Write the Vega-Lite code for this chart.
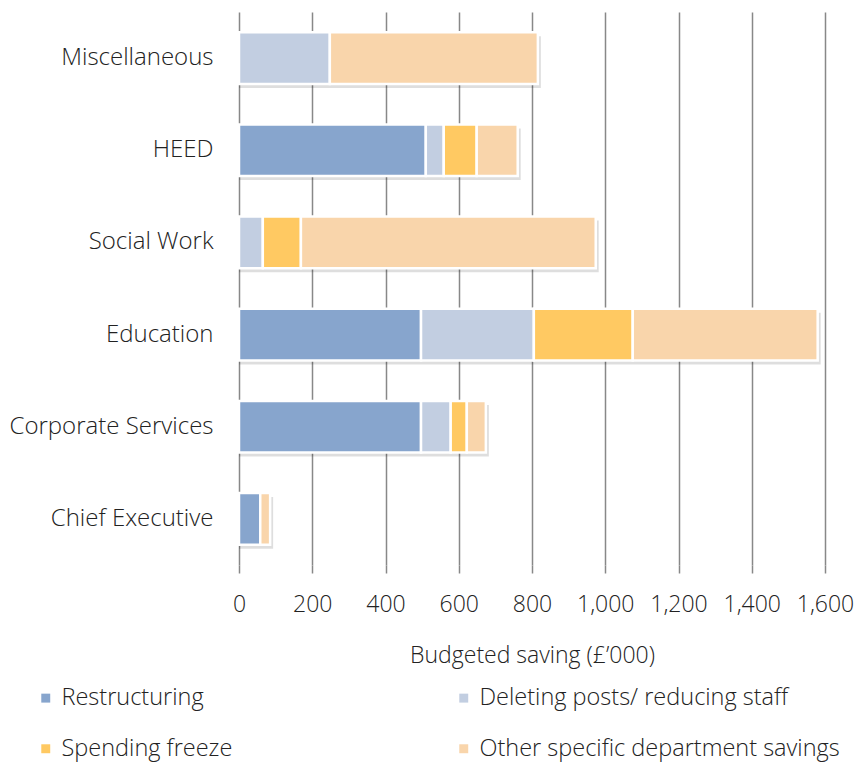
{
  "$schema": "https://vega.github.io/schema/vega-lite/v6.json",
  "width": 586,
  "height": 553,
  "autosize": {"type": "none"},
  "padding": {"left": 239, "top": 12, "right": 30, "bottom": 202},
  "background": "white",
  "config": {
    "font": "Open Sans",
    "view": {"stroke": null},
    "axis": {"labelFont": "Open Sans", "titleFont": "Open Sans", "labelFontWeight": 300, "titleFontWeight": 300},
    "legend": {"labelFont": "Open Sans", "labelFontWeight": 300}
  },
  "data": {
    "values": [
      {"dept": "Miscellaneous", "type": "Deleting posts/ reducing staff", "o": 2, "v": 248},
      {"dept": "Miscellaneous", "type": "Other specific department savings", "o": 4, "v": 568},
      {"dept": "HEED", "type": "Restructuring", "o": 1, "v": 510},
      {"dept": "HEED", "type": "Deleting posts/ reducing staff", "o": 2, "v": 49},
      {"dept": "HEED", "type": "Spending freeze", "o": 3, "v": 90},
      {"dept": "HEED", "type": "Other specific department savings", "o": 4, "v": 112},
      {"dept": "Social Work", "type": "Deleting posts/ reducing staff", "o": 2, "v": 65},
      {"dept": "Social Work", "type": "Spending freeze", "o": 3, "v": 104},
      {"dept": "Social Work", "type": "Other specific department savings", "o": 4, "v": 805},
      {"dept": "Education", "type": "Restructuring", "o": 1, "v": 497},
      {"dept": "Education", "type": "Deleting posts/ reducing staff", "o": 2, "v": 308},
      {"dept": "Education", "type": "Spending freeze", "o": 3, "v": 270},
      {"dept": "Education", "type": "Other specific department savings", "o": 4, "v": 505},
      {"dept": "Corporate Services", "type": "Restructuring", "o": 1, "v": 497},
      {"dept": "Corporate Services", "type": "Deleting posts/ reducing staff", "o": 2, "v": 81},
      {"dept": "Corporate Services", "type": "Spending freeze", "o": 3, "v": 44},
      {"dept": "Corporate Services", "type": "Other specific department savings", "o": 4, "v": 52},
      {"dept": "Chief Executive", "type": "Restructuring", "o": 1, "v": 58},
      {"dept": "Chief Executive", "type": "Other specific department savings", "o": 4, "v": 27}
    ]
  },
  "encoding": {
    "y": {
      "field": "dept",
      "type": "nominal",
      "sort": ["Miscellaneous", "HEED", "Social Work", "Education", "Corporate Services", "Chief Executive"],
      "scale": {"paddingInner": 0.44, "paddingOuter": 0.22},
      "axis": {
        "title": null,
        "ticks": false,
        "domain": false,
        "grid": false,
        "labelFontSize": 24,
        "labelColor": "#222222",
        "labelPadding": 26,
        "labelLimit": 300
      }
    },
    "x": {
      "field": "v",
      "type": "quantitative",
      "scale": {"domain": [0, 1600]},
      "axis": {
        "title": "Budgeted saving (£’000)",
        "titleFontSize": 23,
        "titleColor": "#222222",
        "titlePadding": 28,
        "values": [0, 200, 400, 600, 800, 1000, 1200, 1400, 1600],
        "format": ",d",
        "labelFontSize": 23,
        "labelColor": "#222222",
        "labelPadding": 20,
        "labelOverlap": false,
        "labelFlush": false,
        "tickSize": 8,
        "tickColor": "#888888",
        "tickWidth": 1.5,
        "domain": false,
        "grid": true,
        "gridColor": "#888888",
        "gridWidth": 1.5
      }
    }
  },
  "layer": [
    {
      "mark": {"type": "bar", "color": "#000000", "opacity": 0.13, "xOffset": 3, "yOffset": 4},
      "encoding": {
        "x": {"aggregate": "sum", "field": "v", "type": "quantitative"}
      }
    },
    {
      "mark": {"type": "bar", "stroke": "white", "strokeWidth": 2.5},
      "encoding": {
        "x": {"field": "v", "type": "quantitative", "stack": "zero"},
        "color": {
          "field": "type",
          "type": "nominal",
          "scale": {
            "domain": ["Restructuring", "Deleting posts/ reducing staff", "Spending freeze", "Other specific department savings"],
            "range": ["#87a5cd", "#c2cee1", "#ffc962", "#f9d5ab"]
          },
          "legend": {
            "title": null,
            "orient": "none",
            "direction": "horizontal",
            "legendX": -205,
            "legendY": 674,
            "columns": 2,
            "columnPadding": 219,
            "rowPadding": 26,
            "symbolType": "square",
            "symbolSize": 80,
            "symbolStrokeWidth": 0,
            "labelFontSize": 23.5,
            "labelColor": "#222222",
            "labelOffset": 4,
            "labelLimit": 400
          }
        },
        "order": {"field": "o", "type": "quantitative"}
      }
    }
  ]
}
